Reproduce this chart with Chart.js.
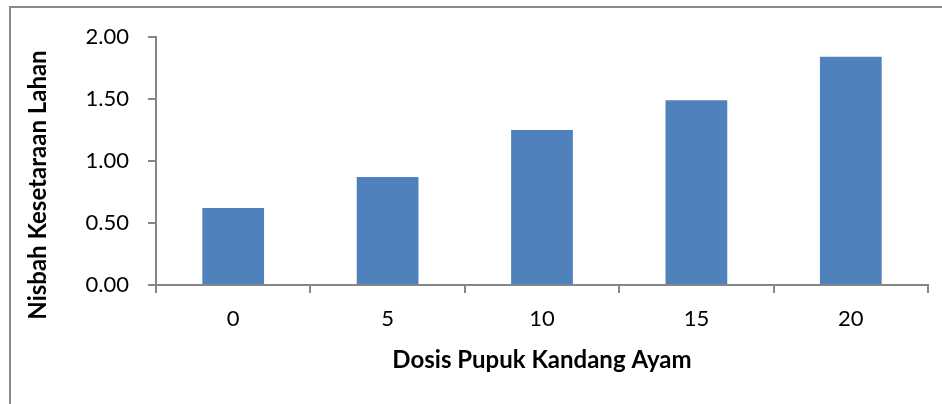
<!DOCTYPE html>
<html>
<head>
<meta charset="utf-8">
<script src="https://cdn.jsdelivr.net/npm/chart.js@4"></script>
<style>
  html, body { margin: 0; padding: 0; background: #fff; }
  #wrap { position: relative; width: 942px; height: 404px; overflow: hidden; }
  #frame { position: absolute; left: 9px; top: 6px; width: 1000px; height: 500px; border: 2px solid #8a8a8a; }
  canvas { position: absolute; left: 0; top: 0; }
</style>
</head>
<body>
<div id="wrap">
  <div id="frame"></div>
  <canvas id="grafik" width="942" height="404"></canvas>
</div>
<script>
// Data nisbah kesetaraan lahan per dosis pupuk
const dosis = ['0', '5', '10', '15', '20'];
const nisbah = [0.62, 0.87, 1.25, 1.49, 1.84];
const judulX = 'Dosis Pupuk Kandang Ayam';
const judulY = 'Nisbah Kesetaraan Lahan';

const warnaSumbu = '#868686';
const fontLabel = { family: 'Lato', size: 22 };

// judul sumbu Y digambar sendiri supaya posisinya sama dengan aslinya
const judulSumbuY = {
    id: 'judulSumbuY',
    afterDraw(chart) {
        const c = chart.ctx;
        c.save();
        c.translate(38, 185);
        c.rotate(-Math.PI / 2);
        c.font = 'bold 24px Lato';
        c.fillStyle = '#000';
        c.textAlign = 'center';
        c.textBaseline = 'middle';
        c.fillText(judulY, 0, 0);
        c.restore();
    }
};

const ctx = document.getElementById('grafik').getContext('2d');
const grafik = new Chart(ctx, {
    type: 'bar',
    data: {
        labels: dosis,
        datasets: [{
            label: judulY,
            data: nisbah,
            backgroundColor: '#4F81BD',
            borderWidth: 0,
            barPercentage: 0.4,
            categoryPercentage: 1.0
        }]
    },
    options: {
        responsive: false,
        devicePixelRatio: 1,
        animation: false,
        layout: { padding: { top: 37, right: 14, bottom: 0, left: 0 } },
        plugins: {
            legend: { display: false },
            tooltip: { enabled: false }
        },
        scales: {
            x: {
                grid: {
                    display: true,
                    offset: true,
                    drawOnChartArea: false,
                    tickLength: 8,
                    color: warnaSumbu,
                    lineWidth: 2
                },
                border: { display: true, color: warnaSumbu, width: 2 },
                ticks: { color: '#000', font: fontLabel, padding: 13, maxRotation: 0 },
                title: {
                    display: true,
                    text: judulX,
                    color: '#000',
                    font: { family: 'Lato', size: 24, weight: 'bold' },
                    padding: { top: 29, bottom: 29 }
                },
                afterFit: (scale) => { scale.height = 119; }
            },
            y: {
                min: 0,
                max: 2,
                grid: {
                    display: true,
                    drawOnChartArea: false,
                    tickLength: 8,
                    color: warnaSumbu,
                    lineWidth: 2
                },
                border: { display: true, color: warnaSumbu, width: 2 },
                ticks: {
                    stepSize: 0.5,
                    color: '#000',
                    font: fontLabel,
                    padding: 19,
                    callback: (v) => v.toFixed(2)
                },
                afterFit: (scale) => { scale.width = 156; }
            }
        }
    },
    plugins: [judulSumbuY]
});
</script>
</body>
</html>
